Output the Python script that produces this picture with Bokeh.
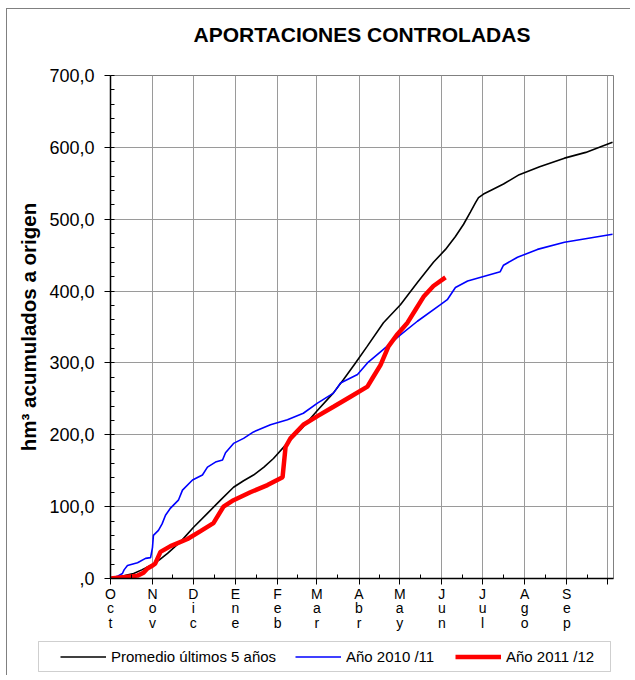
from bokeh.plotting import figure
from bokeh.models import (Range1d, FixedTicker, Legend, LegendItem, Title, BoxAnnotation)
from bokeh.embed import file_html
from bokeh.resources import INLINE

# ---------------- data ----------------
title_text = "APORTACIONES CONTROLADAS"
y_label = "hm³ acumulados a origen"

month_labels = ["Oct", "Nov", "Dic", "Ene", "Feb", "Mar", "Abr", "May",
                "Jun", "Jul", "Ago", "Sep"]
month_start_days = [0, 31, 61, 92, 123, 152, 183, 213, 244, 274, 305, 336, 366]

y_ticks = [0, 100, 200, 300, 400, 500, 600, 700]
y_tick_labels = [",0", "100,0", "200,0", "300,0", "400,0", "500,0", "600,0", "700,0"]

series_names = ["Promedio últimos 5 años", "Año 2010 /11", "Año 2011 /12"]

# Promedio últimos 5 años (black)
avg_day = [0, 8, 17, 23, 29.5, 36, 42, 52, 61, 71, 81, 90.6, 98, 105.3, 113, 120,
           130, 140, 152, 164, 171.6, 180.4, 189, 201, 213.5, 226, 237.8, 246.7,
           254, 260, 265, 268.8, 271, 274.7, 281, 289.4, 301, 316, 334.3, 350, 360, 369.7]
avg_val = [0, 3, 7, 12, 18, 26, 35, 52, 71, 90, 109, 127, 136, 144, 155, 167,
           188, 207, 233, 258, 277, 300, 323, 356, 381, 412, 440, 458,
           476, 493, 510, 523, 530, 535, 541, 549, 562, 573, 585, 593, 600, 607]

# Año 2010/11 (blue)
y1011_day = [0, 5, 8.8, 10, 12.5, 19.9, 25.8, 29.5, 30.9, 31.6, 35.3, 38, 40.5, 44.2,
             50, 53, 60.4, 67.7, 71.4, 77.3, 82.5, 84.7, 90.6, 98, 105.3, 117.8,
             130.3, 142, 152.4, 164.2, 169.4, 181.9, 189.2, 201, 213.5, 226, 243,
             248, 254, 263, 287, 289.4, 299.7, 314.4, 334.3, 369.7]
y1011_val = [0, 3, 7, 12, 18, 22, 28, 29, 43, 60, 67, 76, 88, 98,
             109, 123, 137, 144, 155, 162, 165, 175, 188, 195, 204, 214,
             221, 230, 244, 258, 272, 284, 300, 319, 339, 358, 381,
             388, 405, 414, 427, 436, 447, 458, 468, 479]

# Año 2011/12 (red)
y1112_day = [0, 11, 19.9, 24.3, 27.2, 31, 33, 36.8, 44.2, 56.7, 66.3, 75.8, 83.2,
             90.6, 103, 115.6, 126.7, 128.9, 132.5, 142, 152.4, 164.2, 176.7,
             189.2, 193, 198.8, 204.7, 211.3, 218.7, 224.6, 230.5, 237.8, 246.7]
y1112_val = [0, 2, 4, 8, 14, 18, 21, 37, 45, 55, 66, 77, 100,
             109, 120, 130, 141, 183, 195, 214, 226, 239, 253,
             267, 279, 297, 323, 340, 356, 374, 392, 407, 419]

series_days = [avg_day, y1011_day, y1112_day]
series_vals = [avg_val, y1011_val, y1112_val]
series_colors = ["black", "#0000FF", "#FF0000"]
series_widths = [1.6, 1.6, 4.5]

# ---------------- figure ----------------
FONT = "Liberation Sans"
GRID = "#9a9a9a"

p = figure(width=624, height=625, output_backend="svg", toolbar_location=None,
           x_range=Range1d(0, 370.4), y_range=Range1d(0, 700),
           min_border_left=103, min_border_right=18, min_border_top=66,
           min_border_bottom=56, background_fill_color="white",
           border_fill_color="white")

# spacer between frame and title, then the title itself (stacked outward)
spacer = Title(text=" ", text_font=FONT, text_font_size="21px", standoff=5)
p.add_layout(spacer, "above")
t = Title(text=title_text, align="center", text_font=FONT,
          text_font_size="21px", text_font_style="bold", text_color="black",
          standoff=0)
p.add_layout(t, "above")

p.outline_line_color = "#808080"
p.outline_line_width = 1

# grid
p.xgrid.ticker = FixedTicker(ticks=month_start_days)
p.ygrid.ticker = FixedTicker(ticks=y_ticks)
for g in (p.xgrid, p.ygrid):
    g.grid_line_color = GRID
    g.grid_line_width = 1

# x axis
mid_month = [(month_start_days[i] + month_start_days[i + 1]) / 2 for i in range(12)]
p.xaxis.ticker = FixedTicker(ticks=month_start_days, minor_ticks=mid_month)
overrides = {}
for d, m in zip(month_start_days, month_labels):
    overrides[d] = "\n".join(list(m))
overrides[month_start_days[-1]] = ""
p.xaxis.major_label_overrides = overrides
p.xaxis.major_label_text_font = FONT
p.xaxis.major_label_text_font_size = "14px"
p.xaxis.major_label_text_color = "black"
p.xaxis.major_label_text_line_height = 0.92
p.xaxis.major_label_standoff = 1
p.xaxis.major_tick_out = 6
p.xaxis.major_tick_in = 0
p.xaxis.minor_tick_in = 4
p.xaxis.minor_tick_out = 0
p.xaxis.axis_line_color = "black"
p.xaxis.axis_line_width = 1.5
p.xaxis.major_tick_line_color = "black"
p.xaxis.minor_tick_line_color = "black"

# y axis
p.yaxis.ticker = FixedTicker(ticks=y_ticks, minor_ticks=list(range(0, 701, 20)))
p.yaxis.major_label_overrides = {v: s for v, s in zip(y_ticks, y_tick_labels)}
p.yaxis.major_label_text_font = FONT
p.yaxis.major_label_text_font_size = "18px"
p.yaxis.major_label_text_color = "black"
p.yaxis.major_label_standoff = 10
p.yaxis.major_tick_out = 6
p.yaxis.major_tick_in = 0
p.yaxis.minor_tick_in = 4
p.yaxis.minor_tick_out = 0
p.yaxis.axis_line_color = "black"
p.yaxis.axis_line_width = 1.5
p.yaxis.major_tick_line_color = "black"
p.yaxis.minor_tick_line_color = "black"
p.yaxis.axis_label = y_label
p.yaxis.axis_label_text_font = FONT
p.yaxis.axis_label_text_font_size = "20.5px"
p.yaxis.axis_label_text_font_style = "bold"
p.yaxis.axis_label_text_color = "black"
p.yaxis.axis_label_standoff = 6

# lines
for d, v, c, w in zip(series_days, series_vals, series_colors, series_widths):
    p.line(d, v, line_color=c, line_width=w)

p.styles = {"border-left": "1px solid #808080", "border-top": "1px solid #808080",
            "position": "relative", "left": "6px", "top": "8px"}

# ---------------- legend strip (separate root, no frame alignment) ----------------
q = figure(width=624, height=42, output_backend="svg", toolbar_location=None,
           x_range=Range1d(0, 624), y_range=Range1d(0, 42),
           x_axis_type=None, y_axis_type=None,
           min_border_left=0, min_border_right=0, min_border_top=0,
           min_border_bottom=0, background_fill_color="white",
           border_fill_color="white")
q.outline_line_color = None
q.xgrid.visible = False
q.ygrid.visible = False

box = BoxAnnotation(left=31, right=603, bottom=4, top=34,
                    fill_color="white", fill_alpha=1,
                    line_color="#606060", line_width=1)
q.add_layout(box)

legend_x = [53, 288, 448]
for name, d, v, c, w, lx in zip(series_names, series_days, series_vals,
                                series_colors, series_widths, legend_x):
    r = q.line(d, v, line_color=c, line_width=w, visible=False)
    lg = Legend(items=[LegendItem(label=name, renderers=[r])],
                orientation="horizontal", location=(lx, 10),
                label_text_font=FONT, label_text_font_size="15px",
                label_text_color="black",
                glyph_width=46, glyph_height=17, label_height=17,
                label_standoff=5, spacing=0, padding=0, margin=0,
                border_line_color=None, background_fill_alpha=0,
                inactive_fill_alpha=0)
    q.add_layout(lg)

q.styles = {"border-left": "1px solid #808080",
            "position": "relative", "left": "6px", "top": "8px"}

open("out.html", "w").write(file_html([p, q], INLINE))
